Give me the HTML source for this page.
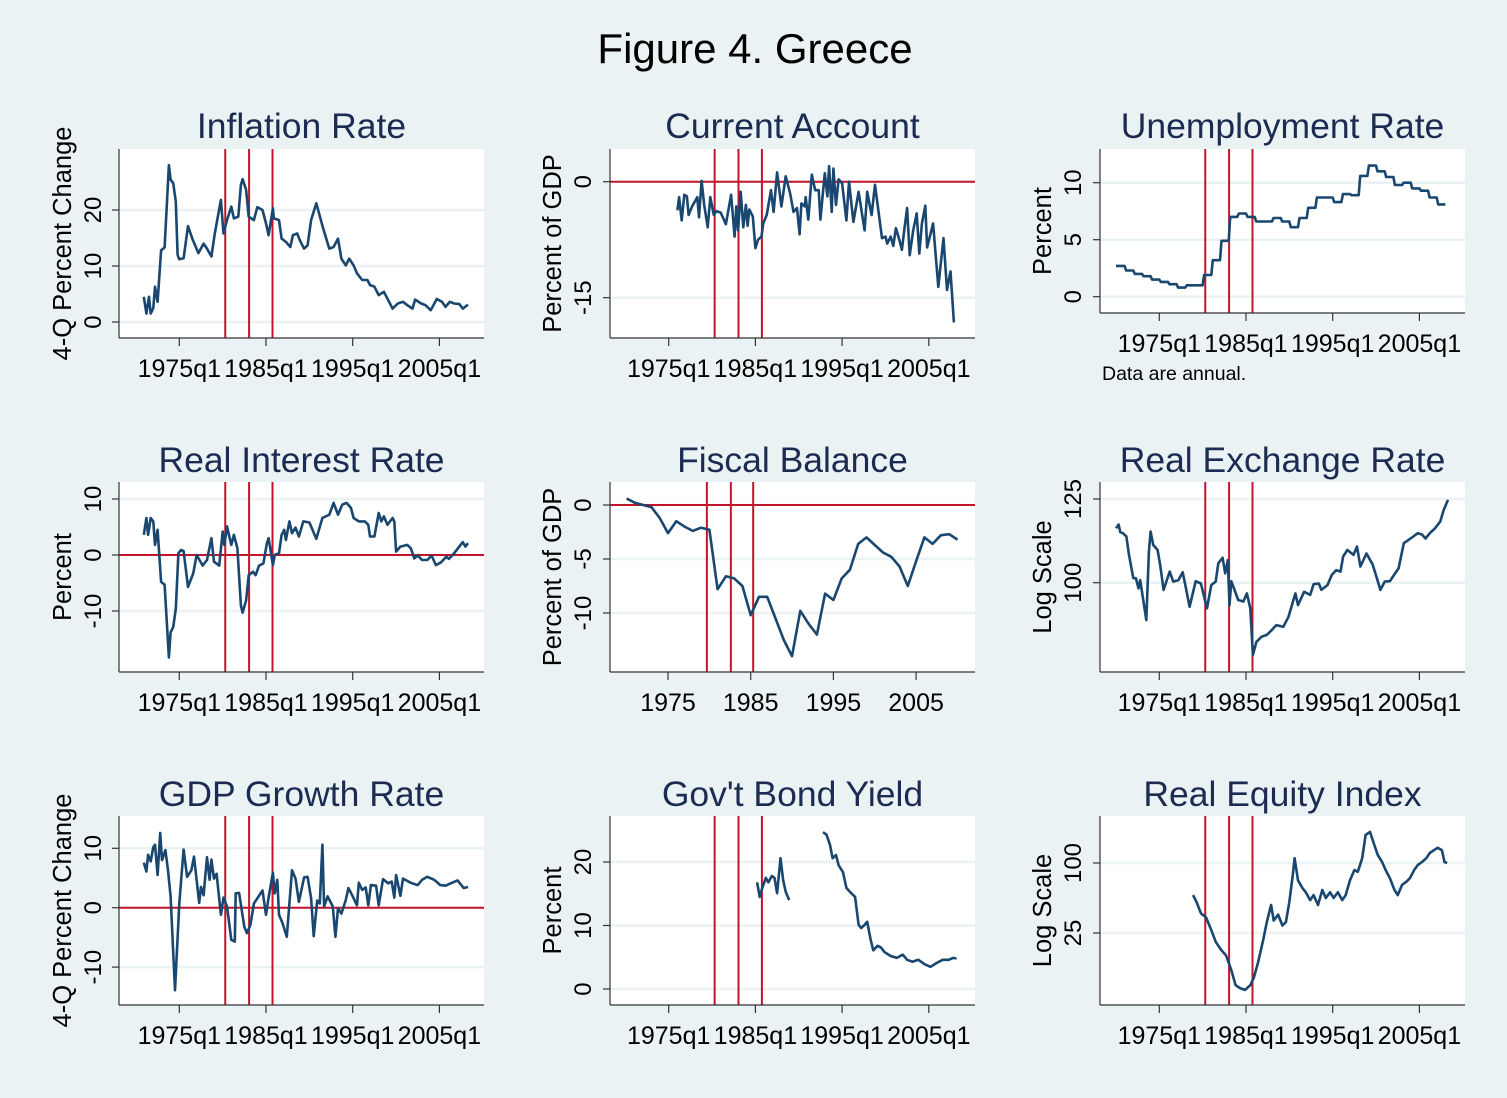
<!DOCTYPE html>
<html><head><meta charset="utf-8"><style>
html,body{margin:0;padding:0;background:#eaf2f3;}
svg{display:block;font-family:"Liberation Sans",Arial,sans-serif;}
</style></head><body>
<svg id="fig" width="1507" height="1098" viewBox="0 0 1507 1098" xmlns="http://www.w3.org/2000/svg">
<rect x="0" y="0" width="1507" height="1098" fill="#eaf2f3"/>
<text x="755" y="63" font-size="42" text-anchor="middle" fill="#000">Figure 4. Greece</text>
</svg>
<script>
// ---- data arrays ----
const inflYears=[1970.9,1971.2,1971.5,1971.7,1972.0,1972.2,1972.5,1972.9,1973.3,1973.8,1974.0,1974.3,1974.6,1974.8,1975.0,1975.5,1976.0,1976.5,1977.2,1977.8,1978.2,1978.7,1979.1,1979.8,1980.1,1980.5,1981.0,1981.3,1981.8,1982.1,1982.3,1982.7,1983.0,1983.6,1984.0,1984.6,1985.0,1985.3,1985.8,1985.9,1986.5,1986.8,1987.3,1987.8,1988.1,1988.6,1988.9,1989.4,1989.8,1990.2,1990.8,1991.6,1992.3,1992.8,1993.3,1993.7,1994.2,1994.6,1995.1,1995.5,1996.1,1996.7,1997.0,1997.5,1998.0,1998.6,1999.6,2000.2,2000.8,2001.3,2001.9,2002.2,2002.9,2003.4,2004.0,2004.7,2005.3,2005.7,2006.2,2006.7,2007.3,2007.7,2008.3];
const inflValues=[4.5,1.5,4.5,1.5,2.5,6.3,3.6,12.8,13.3,28,25.4,24.8,21.5,12,11.2,11.4,17.1,14.9,12.3,14,13.1,11.7,15.8,21.8,15.8,18.2,20.6,18.5,18.8,24.5,25.5,23.6,18.8,18.2,20.5,20,17.6,15.5,20.3,18.5,18.2,14.9,14.3,13.4,15.5,15.8,14.6,13.1,13.7,18.2,21.2,16.7,13.1,13.4,14.9,11.3,10.1,11.3,10.1,8.7,7.5,7.5,6.6,6.3,4.8,5.4,2.4,3.3,3.6,3.0,2.4,4.0,3.3,3.0,2.1,4.1,3.6,2.7,3.6,3.3,3.2,2.4,3.1];

const caYears=[1976.0,1976.2,1976.5,1976.8,1977.1,1977.3,1977.7,1978.3,1978.5,1978.8,1979.1,1979.5,1979.8,1980.2,1980.5,1981.0,1981.6,1982.2,1982.6,1982.8,1983.0,1983.3,1983.6,1983.9,1984.1,1984.3,1984.7,1985.0,1985.3,1985.7,1985.9,1986.3,1986.8,1987.1,1987.5,1988.0,1988.5,1989.0,1989.4,1989.8,1990.1,1990.3,1990.7,1990.8,1991.1,1991.5,1991.9,1992.3,1992.5,1993.0,1993.3,1993.5,1993.8,1994.0,1994.3,1994.6,1995.0,1995.5,1995.8,1996.3,1996.9,1997.6,1997.9,1998.4,1998.8,1999.6,2000.0,2000.2,2000.6,2000.9,2001.2,2001.6,2001.9,2002.2,2002.5,2002.8,2003.2,2003.6,2003.9,2004.2,2004.6,2004.8,2005.5,2006.1,2006.7,2007.1,2007.5,2007.9];
const caValues=[-3.7,-2.0,-5.0,-1.7,-1.9,-4.3,-3.2,-2.0,-4.6,0.1,-3.0,-5.9,-2.0,-4.3,-3.8,-4.0,-5.5,-1.7,-7.1,-3.2,-6.3,-1.3,-5.9,-3.0,-5.7,-3.6,-4.5,-8.6,-7.5,-7.1,-5.4,-4.3,-1.1,-3.9,1.2,-3.2,0.7,-1.5,-3.9,-3.4,-6.8,-2.8,-3.2,-2.0,-4.9,0.9,-1.1,-1.1,-4.9,1.1,-1.9,2.0,-3.9,1.7,-3.0,0.3,-0.2,-5.0,0,-5.2,-1.3,-6.3,-1.3,-4.3,-0.4,-7.3,-7.1,-8.0,-7.1,-8.3,-6.0,-7.5,-8.8,-6.0,-3.4,-9.5,-6.3,-4.1,-9.3,-5.4,-3.1,-8.5,-5.4,-13.6,-7.3,-14.0,-11.6,-18.2];

const unempYears=[1970,1971,1972,1973,1974,1975,1976,1977,1978,1979,1980,1981,1982,1983,1984,1985,1986,1987,1988,1989,1990,1991,1992,1993,1994,1995,1996,1997,1998,1999,2000,2001,2002,2003,2004,2005,2006,2007];
const unempValues=[2.7,2.3,2.0,1.8,1.5,1.3,1.1,0.8,1.0,1.0,1.9,3.2,4.9,7.0,7.3,7.0,6.6,6.6,6.9,6.6,6.1,6.9,7.8,8.7,8.7,8.3,9.0,8.9,10.6,11.5,11.0,10.5,9.8,10.0,9.5,9.3,8.7,8.1];

const rirYears=[1970.9,1971.2,1971.4,1971.7,1972.0,1972.2,1972.5,1972.9,1973.3,1973.8,1974.0,1974.3,1974.6,1974.9,1975.2,1975.5,1976.0,1976.6,1977.0,1977.7,1978.2,1978.7,1979.0,1979.6,1980.0,1980.2,1980.5,1981.0,1981.3,1981.7,1982.1,1982.3,1982.7,1983.0,1983.5,1983.8,1984.2,1984.7,1985.1,1985.3,1985.8,1986.0,1986.5,1986.8,1987.1,1987.3,1987.7,1988.0,1988.4,1988.8,1989.3,1990.0,1990.8,1991.5,1992.3,1992.8,1993.3,1993.8,1994.3,1994.8,1995.1,1995.7,1996.4,1996.8,1997.0,1997.5,1998.0,1998.3,1998.6,1999.0,1999.6,1999.8,2000.0,2000.5,2001.3,2001.7,2002.1,2002.5,2003.0,2003.6,2004.1,2004.6,2005.2,2005.8,2006.1,2006.7,2007.3,2007.7,2008.0,2008.3];
const rirValues=[3.6,6.6,3.6,6.6,6.0,1.8,4.5,-4.8,-5.3,-18.3,-13.8,-12.9,-9.6,0.3,0.9,0.7,-5.7,-3.3,0,-1.9,-0.9,3.0,-1.2,-1.9,4.2,1.8,5.1,1.8,3.6,1.2,-9.0,-10.3,-8.1,-3.6,-3.0,-3.6,-1.9,-1.5,2.1,3.0,-1.8,0,0.3,3.6,4.5,2.7,6.0,3.9,4.9,3.3,6.0,5.8,2.9,6.6,7.2,9.3,7.2,9.0,9.3,8.4,6.6,6.0,6.0,5.4,3.3,3.3,7.5,6.0,6.9,5.4,6.6,6.0,0.6,1.5,1.8,1.2,-0.6,-0.1,-0.9,-0.9,-0.1,-1.8,-1.3,-0.3,-0.7,0.3,1.5,2.3,1.5,2.1];

const fiscYears=[1970,1971,1972,1973,1974,1975,1976,1977,1978,1979,1980,1981,1982,1983,1984,1985,1986,1987,1988,1989,1990,1991,1992,1993,1994,1995,1996,1997,1998,1999,2000,2001,2002,2003,2004,2005,2006,2007,2008,2009,2010];
const fiscValues=[0.6,0.2,0.0,-0.2,-1.2,-2.6,-1.5,-2.0,-2.4,-2.1,-2.3,-7.8,-6.6,-6.8,-7.5,-10.2,-8.5,-8.5,-10.5,-12.5,-14.0,-9.8,-11.0,-12.0,-8.2,-8.8,-6.8,-6.0,-3.6,-3.0,-3.7,-4.4,-4.8,-5.7,-7.5,-5.2,-3.0,-3.6,-2.8,-2.7,-3.2];

const rerYears=[1970.0,1970.3,1970.5,1970.8,1971.2,1971.5,1972.0,1972.3,1972.6,1972.8,1973.5,1973.8,1974.0,1974.3,1974.8,1975.1,1975.5,1976.2,1976.6,1977.2,1977.7,1978.0,1978.5,1979.2,1979.8,1980.5,1981.0,1981.5,1981.8,1982.3,1982.6,1982.9,1983.1,1983.3,1984.1,1984.7,1985.1,1985.5,1985.8,1986.2,1986.8,1987.4,1988.0,1988.5,1989.3,1989.9,1990.7,1991.0,1991.7,1992.4,1992.8,1993.4,1993.7,1994.4,1994.9,1995.4,1995.9,1996.2,1996.7,1997.4,1997.8,1998.2,1998.9,1999.6,2000.1,2000.5,2001.0,2001.6,2002.2,2002.6,2003.2,2003.7,2004.3,2004.8,2005.3,2005.7,2006.2,2006.8,2007.4,2007.8,2008.3];
const rerValues=[115.6,116.8,114.4,114.1,113.1,107.7,101.2,101.2,98.5,100.7,90.5,108.6,114.6,110.6,109.1,104.8,98.1,103.0,100.3,100.7,102.8,99.4,93.8,100.4,99.8,93.4,99.4,100.3,105.3,106.9,102.5,106.2,94.2,100.4,95.5,95.1,97.2,93.4,82.5,85.4,86.6,87.0,88.2,89.3,88.9,91.3,97.2,94.2,97.6,96.8,99.6,99.8,98.1,99.4,102.1,103.4,103.0,107.2,109.1,107.7,110.1,104.4,108.1,105.0,101.2,98.1,100.3,100.4,102.5,103.9,111.1,112.0,113.1,114.1,113.7,112.5,114.1,115.6,117.7,121.4,124.7];

const gdpYears=[1970.9,1971.2,1971.4,1971.7,1972.0,1972.2,1972.5,1972.8,1973.0,1973.4,1973.7,1974.0,1974.5,1975.0,1975.5,1975.9,1976.4,1976.7,1977.3,1977.5,1977.8,1978.2,1978.5,1978.7,1979.0,1979.3,1979.8,1980.1,1980.5,1981.0,1981.4,1981.5,1981.9,1982.5,1982.8,1983.2,1983.6,1984.6,1985.0,1985.3,1985.8,1986.0,1986.3,1986.5,1986.9,1987.4,1988.0,1988.4,1988.8,1989.4,1989.8,1990.2,1990.5,1990.9,1991.2,1991.5,1991.7,1992.1,1992.7,1993.0,1993.3,1993.7,1994.2,1994.5,1994.8,1995.5,1995.7,1996.1,1996.5,1996.8,1997.1,1997.7,1998.0,1998.5,1999.1,1999.5,1999.8,2000.0,2000.5,2000.8,2001.7,2002.5,2003.0,2003.6,2004.4,2005.1,2005.7,2006.3,2007.1,2007.8,2008.3];
const gdpValues=[7.6,6.1,8.9,7.8,10.2,10.6,5.5,12.6,8.0,9.7,6.3,1.9,-13.9,0.7,9.8,5.2,6.3,8.6,0.8,3.5,2.1,8.5,4.7,8.1,4.9,5.7,-1.2,1.7,0.2,-5.4,-5.7,2.4,2.5,-3.2,-4.3,-2.9,0.7,2.9,-1.2,1.7,5.9,2.4,4.7,-1.2,-2.6,-4.9,6.3,4.9,1.0,5.1,5.2,1.6,-4.8,1.2,0.7,10.6,0.2,1.9,0.2,-4.9,-0.1,-1.0,1.3,3.3,2.5,0.4,4.2,3.0,3.4,0.4,3.8,3.7,0.4,4.8,4.1,4.4,1.7,5.5,2.0,4.9,4.2,3.8,4.7,5.2,4.7,3.8,3.7,4.1,4.6,3.3,3.5];

const bondYears=[1985.2,1985.5,1985.8,1986.2,1986.5,1986.9,1987.2,1987.5,1987.9,1988.2,1988.5,1988.9,null,1992.8,1993.2,1993.6,1993.9,1994.3,1994.6,1995.1,1995.5,1995.9,1996.5,1996.9,1997.2,1997.6,1997.9,1998.3,1998.6,1999.1,1999.5,1999.9,2000.6,2001.3,2002.0,2002.5,2003.1,2003.8,2004.5,2005.2,2005.9,2006.6,2007.3,2007.8,2008.2];
const bondValues=[16.8,14.5,15.9,17.5,16.8,17.8,17.5,15.1,20.6,17.2,15.3,14.0,null,24.7,24.3,22.7,20.6,21.1,19.5,18.4,15.9,15.3,14.5,10.1,9.6,10.1,10.6,7.7,6.1,6.8,6.5,5.8,5.2,4.9,5.4,4.6,4.3,4.6,3.9,3.5,4.1,4.6,4.6,4.9,4.8];

const eqYears=[1978.9,1979.3,1979.8,1980.4,1981.0,1981.5,1982.1,1982.7,1983.3,1983.8,1984.3,1984.9,1985.5,1985.9,1986.4,1987.0,1987.4,1987.9,1988.2,1988.7,1989.2,1989.6,1990.0,1990.4,1990.6,1991.0,1991.5,1991.9,1992.4,1992.8,1993.3,1993.8,1994.2,1994.7,1995.1,1995.6,1996.1,1996.5,1997.0,1997.5,1997.9,1998.4,1998.8,1999.3,1999.8,2000.2,2000.7,2001.1,2001.6,2002.1,2002.5,2003.0,2003.5,2003.9,2004.4,2004.8,2005.3,2005.8,2006.2,2006.7,2007.1,2007.6,2007.9,2008.2];
const eqValues=[53,46,37,34,26.5,21,18,16,12,8.9,8.4,8.1,8.9,10.3,14,22,31,43.5,32,36,29,31,46,79,110,71,61,56,48,53,43.5,58.6,50,56,50,56,48,53,71,87,84,110,174,185,143,117,102,87,74,59,53,65,69,74,87,96,102,110,122,129,135,129,102,100];

const crisisYears=[1980.3,1983.05,1985.75];
const fiscCrisisYears=[1979.7,1982.6,1985.3];
const qTickYears=[1975,1985,1995,2005];
const qTickLabels=["1975q1","1985q1","1995q1","2005q1"];
const fiscTickYears=[1975,1985,1995,2005];
const fiscTickLabels=["1975","1985","1995","2005"];

const NS="http://www.w3.org/2000/svg";
const svg=document.getElementById('fig');
function mk(tag,attrs,parent){const e=document.createElementNS(NS,tag);for(const k in attrs)e.setAttribute(k,attrs[k]);(parent||svg).appendChild(e);return e;}

const cols=[{left:119,right:484,x1975:179.3,tickX:92,titleX:62},{left:610,right:975,x1975:668.7,tickX:582,titleX:552},{left:1100,right:1465,x1975:1159.3,tickX:1072,titleX:1042}];
const rows=[{top:149,bottom:338,titleY:138,labY:377},{top:482,bottom:672,titleY:472,labY:710},{top:816,bottom:1005,titleY:806,labY:1044}];

function linY(v1,p1,v2,p2){return v=>p1+(v-v1)*(p2-p1)/(v2-v1);}
function logY(v1,p1,v2,p2){return v=>p1+(Math.log(v)-Math.log(v1))*(p2-p1)/(Math.log(v2)-Math.log(v1));}

const panels=[
 {name:'inflation-rate',title:'Inflation Rate',ytitle:'4-Q Percent Change',c:0,r:0,xs:inflYears,ys:inflValues,y:linY(0,322,20,210),ticks:[0,10,20],labels:["0","10","20"],hline:false},
 {name:'current-account',title:'Current Account',ytitle:'Percent of GDP',c:1,r:0,xs:caYears,ys:caValues,y:linY(0,181.7,-15,297.7),ticks:[0,-15],labels:["0","-15"],hline:true},
 {name:'unemployment-rate',title:'Unemployment Rate',ytitle:'Percent',c:2,r:0,xs:unempYears,ys:unempValues,y:linY(0,296.7,10,182.7),ticks:[0,5,10],labels:["0","5","10"],hline:false,step:true,bottom:313,note:'Data are annual.'},
 {name:'real-interest-rate',title:'Real Interest Rate',ytitle:'Percent',c:0,r:1,xs:rirYears,ys:rirValues,y:linY(0,555,10,499),ticks:[-10,0,10],labels:["-10","0","10"],hline:true},
 {name:'fiscal-balance',title:'Fiscal Balance',ytitle:'Percent of GDP',c:1,r:1,xs:fiscYears,ys:fiscValues,y:linY(0,505,-10,613),ticks:[0,-5,-10],labels:["0","-5","-10"],hline:true,fiscal:true},
 {name:'real-exchange-rate',title:'Real Exchange Rate',ytitle:'Log Scale',c:2,r:1,xs:rerYears,ys:rerValues,y:logY(100,582.7,125,499),ticks:[100,125],labels:["100","125"],hline:false},
 {name:'gdp-growth-rate',title:'GDP Growth Rate',ytitle:'4-Q Percent Change',c:0,r:2,xs:gdpYears,ys:gdpValues,y:linY(0,907.7,10,848.3),ticks:[-10,0,10],labels:["-10","0","10"],hline:true},
 {name:'govt-bond-yield',title:"Gov't Bond Yield",ytitle:'Percent',c:1,r:2,xs:bondYears,ys:bondValues,y:linY(0,989,20,862),ticks:[0,10,20],labels:["0","10","20"],hline:false},
 {name:'real-equity-index',title:'Real Equity Index',ytitle:'Log Scale',c:2,r:2,xs:eqYears,ys:eqValues,y:logY(100,863,25,933),ticks:[25,100],labels:["25","100"],hline:false}
];

panels.forEach(p=>{
 const C=cols[p.c],R=rows[p.r];
 const bottom=p.bottom||R.bottom;
 const xf=p.fiscal?(yr=>668+(yr-1975)*8.27):(yr=>C.x1975+(yr-1975)*8.67);
 const g=mk('g',{});
 
 
 const t=mk('text',{x:(C.left+C.right)/2,y:R.titleY,'font-size':35.5,'text-anchor':'middle',fill:'#1c2b51'},g);
 t.textContent=p.title;
 
 
 const bg=mk('rect',{x:C.left,y:R.top,width:C.right-C.left,height:bottom-R.top,fill:'#fff'},g);
 
 
 p.ticks.forEach((v,i)=>{
  const yy=p.y(v);
  const gl=mk('line',{x1:C.left,x2:C.right,y1:yy,y2:yy,stroke:'#eaf2f3','stroke-width':2.5},g);
  
  
  const tk=mk('line',{x1:C.left-7,x2:C.left,y1:yy,y2:yy,stroke:'#333','stroke-width':1.2},g);
  
  
  const lb=mk('text',{x:C.tickX+9,y:yy,'font-size':24,'text-anchor':'middle',fill:'#000',transform:`rotate(-90 ${C.tickX+9} ${yy})`},g);
  lb.textContent=p.labels[i];
  
  
 });
 const yt=mk('text',{x:C.titleX+9,y:(R.top+bottom)/2,'font-size':25.5,'text-anchor':'middle',fill:'#000',transform:`rotate(-90 ${C.titleX+9} ${(R.top+bottom)/2})`},g);
 yt.textContent=p.ytitle;
 
 
 const tYears=p.fiscal?fiscTickYears:qTickYears, tLabels=p.fiscal?fiscTickLabels:qTickLabels;
 tYears.forEach((yr,i)=>{
  const xx=xf(yr);
  const tk=mk('line',{x1:xx,x2:xx,y1:bottom,y2:bottom+8,stroke:'#333','stroke-width':1.2},g);
  
  
  const lb=mk('text',{x:xx,y:bottom+39,'font-size':25,'text-anchor':'middle',fill:'#000'},g);
  lb.textContent=tLabels[i];
  
  
 });
 if(p.note){
  const n=mk('text',{x:1102,y:380,'font-size':19.5,fill:'#000'},g);
  n.textContent=p.note;
  
  
 }
 if(p.hline){
  const yy=p.y(0);
  const hl=mk('line',{x1:C.left,x2:C.right,y1:yy,y2:yy,stroke:'#c4142c','stroke-width':2},g);
  
  
 }
 (p.fiscal?fiscCrisisYears:crisisYears).forEach(yr=>{
  const xx=xf(yr);
  const vl=mk('line',{x1:xx,x2:xx,y1:R.top,y2:bottom,stroke:'#c4142c','stroke-width':2},g);
  
  
 });
 let d='',pen=false;
 for(let i=0;i<p.xs.length;i++){
  if(p.xs[i]===null){pen=false;continue;}
  const xx=xf(p.xs[i]),yy=p.y(p.ys[i]);
  if(p.step){
   if(!pen){d+=`M${xx.toFixed(1)},${yy.toFixed(1)}`;pen=true;}
   else d+=`L${(xx+1.5).toFixed(1)},${yy.toFixed(1)}`;
   d+=`L${xf(p.xs[i]+1).toFixed(1)},${yy.toFixed(1)}`;
  } else {
   d+=(pen?'L':'M')+xx.toFixed(1)+','+yy.toFixed(1);pen=true;
  }
 }
 const s=mk('path',{d:d,fill:'none',stroke:'#1a476f','stroke-width':2.6,'stroke-linejoin':'round'},g);
 
 
 const ax=mk('line',{x1:C.left,x2:C.left,y1:R.top,y2:bottom,stroke:'#333','stroke-width':1.2},g);
 
 
 const bx=mk('line',{x1:C.left,x2:C.right,y1:bottom,y2:bottom,stroke:'#333','stroke-width':1.2},g);
 
 
});
</script>
</body></html>
